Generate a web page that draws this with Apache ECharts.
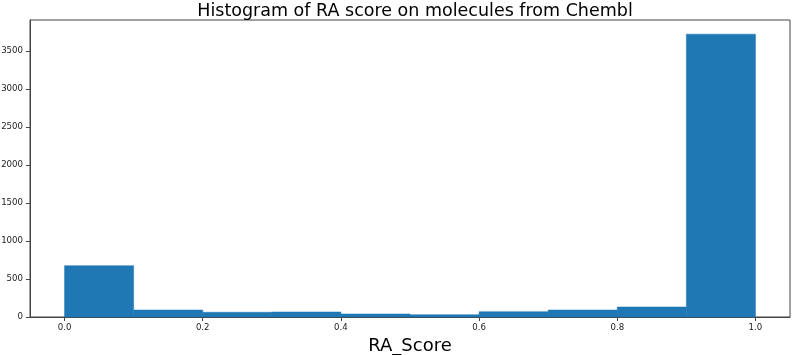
<!DOCTYPE html>
<html>
<head>
<meta charset="utf-8">
<script src="https://cdn.jsdelivr.net/npm/echarts@6/dist/echarts.min.js"></script>
<style>
html, body { margin: 0; padding: 0; background: #fff; }
#chart { width: 792px; height: 355px; }
</style>
</head>
<body>
<div id="chart"></div>
<script>
// histogram bins (left edge, right edge) and counts
var binStart = [0.0, 0.1, 0.2, 0.3, 0.4, 0.5, 0.6, 0.7, 0.8, 0.9];
var binEnd = [0.1, 0.2, 0.3, 0.4, 0.5, 0.6, 0.7, 0.8, 0.9, 1.0];
var counts = [675, 92, 62, 66, 40, 30, 70, 92, 132, 3720];
var xTicks = [0.0, 0.2, 0.4, 0.6, 0.8, 1.0];
var yTicks = [0, 500, 1000, 1500, 2000, 2500, 3000, 3500];

var font = 'DejaVu Sans';
var histData = [];
for (var i = 0; i < counts.length; i++) {
  histData.push([binStart[i], binEnd[i], counts[i]]);
}

var myChart = echarts.init(document.getElementById('chart'));
var option = {
  animation: false,
  title: {
    text: 'Histogram of RA score on molecules from Chembl',
    left: 410,
    textAlign: 'center',
    top: -3,
    textStyle: { fontFamily: font, fontSize: 17.5, fontWeight: 'normal', color: '#000' }
  },
  grid: {
    left: 30, right: 2, top: 20, bottom: 38,
    outerBoundsMode: 'none',
    containLabel: false,
    show: true, borderColor: '#444', borderWidth: 1
  },
  xAxis: {
    type: 'value',
    min: -0.05,
    max: 1.05,
    name: 'RA_Score',
    nameLocation: 'middle',
    nameGap: 14,
    nameTextStyle: { fontFamily: font, fontSize: 18, color: '#000', verticalAlign: 'top' },
    axisLine: { onZero: false, lineStyle: { color: '#444', width: 1 } },
    axisTick: { customValues: xTicks, length: 4, lineStyle: { color: '#444' } },
    axisLabel: {
      customValues: xTicks,
      fontFamily: font, fontSize: 8.6, color: '#222', margin: 6,
      formatter: function (v) { return v.toFixed(1); }
    },
    splitLine: { show: false }
  },
  yAxis: {
    type: 'value',
    min: 0,
    max: 3906,
    axisLine: { show: true, onZero: false, lineStyle: { color: '#444', width: 1 } },
    axisTick: { show: true, customValues: yTicks, length: 4, lineStyle: { color: '#444' } },
    axisLabel: {
      customValues: yTicks, fontFamily: font, fontSize: 8.6, color: '#222', margin: 7,
      formatter: function (v) { return String(v); }
    },
    splitLine: { show: false }
  },
  series: [{
    type: 'custom',
    data: histData,
    encode: { x: [0, 1], y: 2 },
    renderItem: function (params, api) {
      var p0 = api.coord([api.value(0), api.value(2)]);
      var p1 = api.coord([api.value(1), 0]);
      return {
        type: 'rect',
        shape: { x: p0[0], y: p0[1], width: p1[0] - p0[0], height: p1[1] - p0[1] },
        style: { fill: '#1f77b4', stroke: '#1f77b4', lineWidth: 0.5 }
      };
    }
  }]
};
myChart.setOption(option);
</script>
</body>
</html>
